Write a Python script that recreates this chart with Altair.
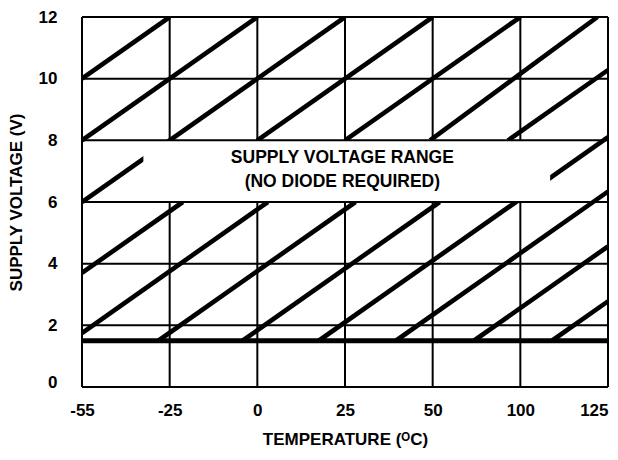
import altair as alt
import pandas as pd

# ---- data ----
temp_labels = ["-55", "-25", "0", "25", "50", "100", "125"]   # evenly spaced temperature gridlines
volt_ticks = [0, 2, 4, 6, 8, 10, 12]
min_supply_v = [1.5]

# diagonal hatch segments: x = temperature gridline position (0..6), v = supply voltage
hatch_x0 = [0, 0, 0, 2, 3, 3.97, 4.86, 0, 0, 0.87, 1.83, 2.70, 3.58, 4.47, 5.36]
hatch_v0 = [10, 8, 6, 8, 8, 8, 8, 3.7, 1.75, 1.5, 1.5, 1.5, 1.5, 1.5, 1.5]
hatch_x1 = [1, 2, 3, 4, 5, 5.88, 6, 1.15, 2.12, 3.12, 4.08, 6, 6, 6, 6]
hatch_v1 = [12, 12, 12, 12, 12, 12, 10.28, 6, 6, 6, 6, 8.1, 6.34, 4.56, 2.78]

# label box inside the hatched region
gap_x = [0.7, 5.34]
gap_v = [6, 8]
label_lines = ["SUPPLY VOLTAGE RANGE", "(NO DIODE REQUIRED)"]
label_x = [2.97, 2.97]
label_v = [7.27, 6.49]

FONT = "Liberation Sans"
W, H = 526, 370
last = len(temp_labels) - 1

xs = alt.Scale(domain=[0, last], nice=False, zero=False)
ys = alt.Scale(domain=[0, 12], nice=False, zero=False)

label_expr = "[" + ",".join("'%s'" % t for t in temp_labels) + "][datum.value]"

xaxis = alt.Axis(
    values=list(range(len(temp_labels))), labelExpr=label_expr,
    grid=False, domain=False, ticks=False, tickSize=0,
    labelPadding=15, labelFont=FONT, labelFontSize=17, labelFontWeight="bold",
    labelColor="black", labelFlush=False,
    labelAlign={"condition": {"test": "datum.value == %d" % last, "value": "right"}, "value": "center"},
    title="TEMPERATURE (ᴼC)", titleFont=FONT, titleFontSize=17, titleFontWeight="bold",
    titleColor="black", titlePadding=13,
)
yaxis = alt.Axis(
    values=volt_ticks, grid=False, domain=False, ticks=False, tickSize=0,
    labelPadding=25, labelFont=FONT, labelFontSize=17, labelFontWeight="bold",
    labelColor="black", labelFlush=False,
    labelBaseline={"condition": {"test": "datum.value == 0", "value": "alphabetic"}, "value": "middle"},
    title="SUPPLY VOLTAGE (V)", titleFont=FONT, titleFontSize=17, titleFontWeight="bold",
    titleColor="black", titlePadding=13,
)

pos_df = pd.DataFrame({"pos": list(range(len(temp_labels))), "vlo": 0, "vhi": 12})
volt_df = pd.DataFrame({"v": volt_ticks, "xlo": 0, "xhi": last})
hatch_df = pd.DataFrame({"x0": hatch_x0, "v0": hatch_v0, "x1": hatch_x1, "v1": hatch_v1})
gap_df = pd.DataFrame({"x0": [gap_x[0]], "x1": [gap_x[1]], "v0": [gap_v[0]], "v1": [gap_v[1]]})
min_df = pd.DataFrame({"v": min_supply_v, "xlo": 0, "xhi": last})
lab_df = pd.DataFrame({"t": label_lines, "x": label_x, "v": label_v})

vgrid = alt.Chart(pos_df).mark_rule(color="black", strokeWidth=2).encode(
    x=alt.X("pos:Q", scale=xs, axis=xaxis),
    y=alt.Y("vlo:Q", scale=ys, axis=yaxis),
    y2="vhi:Q",
)

hatch = alt.Chart(hatch_df).mark_rule(color="black", strokeWidth=4.6, clip=True).encode(
    x=alt.X("x0:Q", scale=xs, axis=xaxis),
    y=alt.Y("v0:Q", scale=ys, axis=yaxis),
    x2="x1:Q", y2="v1:Q",
)

gap = alt.Chart(gap_df).mark_rect(color="white", opacity=1).encode(
    x=alt.X("x0:Q", scale=xs, axis=xaxis),
    x2="x1:Q",
    y=alt.Y("v0:Q", scale=ys, axis=yaxis),
    y2="v1:Q",
)

hgrid = alt.Chart(volt_df).mark_rule(color="black", strokeWidth=2).encode(
    x=alt.X("xlo:Q", scale=xs, axis=xaxis),
    x2="xhi:Q",
    y=alt.Y("v:Q", scale=ys, axis=yaxis),
)

minline = alt.Chart(min_df).mark_rule(color="black", strokeWidth=5).encode(
    x=alt.X("xlo:Q", scale=xs, axis=xaxis),
    x2="xhi:Q",
    y=alt.Y("v:Q", scale=ys, axis=yaxis),
)

labels = alt.Chart(lab_df).mark_text(
    font=FONT, fontSize=17.5, fontWeight="bold", color="black",
    align="center", baseline="alphabetic",
).encode(
    x=alt.X("x:Q", scale=xs, axis=xaxis),
    y=alt.Y("v:Q", scale=ys, axis=yaxis),
    text="t:N",
)

chart = alt.layer(vgrid, hatch, gap, hgrid, minline, labels).properties(
    width=W, height=H,
    autosize=alt.AutoSizeParams(type="none"),
    padding={"left": 74, "top": 9, "right": 2, "bottom": 62},
).configure_view(stroke=None)

chart.save("out.html", embed_options={"renderer": "svg", "actions": False})
